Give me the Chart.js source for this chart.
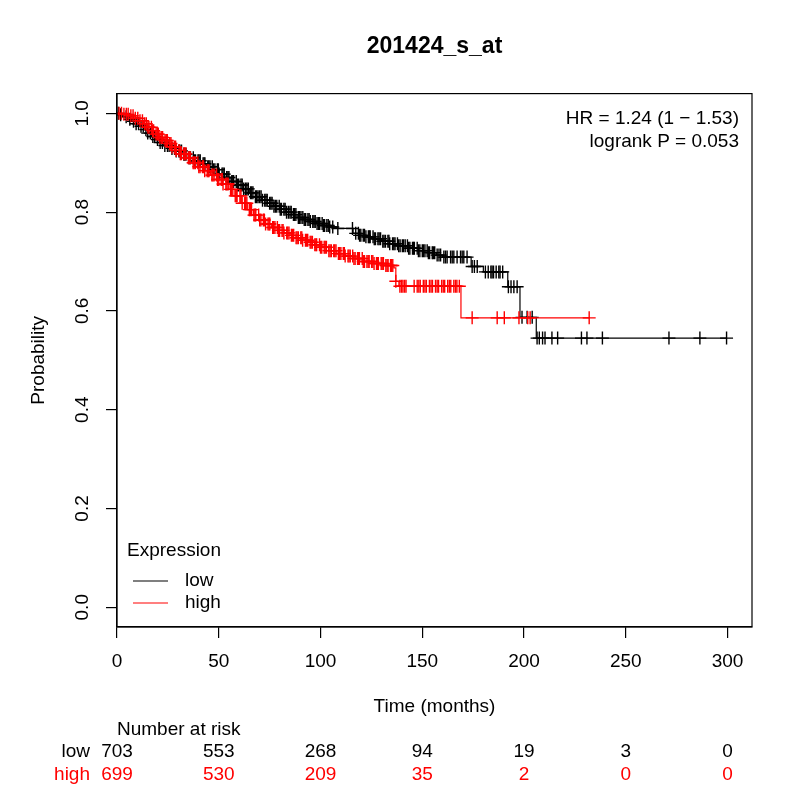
<!DOCTYPE html>
<html>
<head>
<meta charset="utf-8">
<script src="https://cdn.jsdelivr.net/npm/chart.js@4.4.0/dist/chart.umd.min.js"></script>
<style>
    html, body { margin: 0; padding: 0; background: #fff; }
    #wrap { width: 800px; height: 800px; }
</style>
</head>
<body>
<div id="wrap"><canvas id="kmChart" width="800" height="800"></canvas></div>
<script>
// survival steps (months, probability)
const lowTime = [0, 1.5, 3, 5, 7, 9, 11, 13, 15, 17, 19, 21, 23, 26, 29, 32, 35, 38, 41, 44, 47, 50, 53, 56, 59, 62, 65, 68, 71, 74, 77, 80, 83, 86, 89, 92, 95, 98, 101, 104, 108, 116, 119, 122, 126, 130, 134, 138, 143, 148, 153, 157, 160, 174, 180, 192, 198, 206, 299.5];
const lowSurv = [1.0, 0.997, 0.993, 0.988, 0.984, 0.979, 0.974, 0.967, 0.960, 0.953, 0.947, 0.941, 0.935, 0.929, 0.924, 0.917, 0.910, 0.904, 0.898, 0.892, 0.886, 0.877, 0.870, 0.862, 0.855, 0.847, 0.839, 0.831, 0.824, 0.818, 0.812, 0.806, 0.800, 0.795, 0.789, 0.785, 0.781, 0.777, 0.773, 0.770, 0.767, 0.757, 0.753, 0.750, 0.746, 0.741, 0.736, 0.732, 0.727, 0.722, 0.718, 0.713, 0.709, 0.690, 0.679, 0.649, 0.587, 0.545, 0.545];

const highTime = [0, 3, 6, 9, 11, 13, 15, 17, 19, 21, 23, 25, 27, 29, 31, 34, 37, 40, 43, 46, 49, 52, 55, 58, 61, 64, 67, 70, 73, 76, 79, 82, 85, 88, 91, 94, 97, 100, 104, 108, 112, 116, 121, 126, 131, 136, 137, 138.5, 169, 232];
const highSurv = [1.0, 0.998, 0.995, 0.990, 0.985, 0.979, 0.972, 0.965, 0.958, 0.951, 0.945, 0.939, 0.932, 0.925, 0.918, 0.910, 0.900, 0.892, 0.884, 0.875, 0.866, 0.857, 0.846, 0.833, 0.818, 0.805, 0.794, 0.784, 0.776, 0.769, 0.763, 0.758, 0.753, 0.748, 0.743, 0.739, 0.734, 0.729, 0.722, 0.716, 0.711, 0.706, 0.700, 0.696, 0.692, 0.687, 0.660, 0.650, 0.586, 0.586];

// censoring times ('+' marks)
const lowCensor = [0.7, 1.8, 4.5, 6.3, 8.1, 9.4, 10.6, 11.8, 12.9, 14.2, 15.1, 16.4, 17.6, 18.5, 19.9, 21.2, 22.3, 23.5, 24.8, 25.6, 27.0, 28.3, 29.1, 30.4, 30.9, 31.7, 32.8, 33.3, 33.9, 35.2, 35.7, 36.1, 37.5, 38.0, 38.6, 39.8, 40.3, 40.9, 42.3, 42.8, 43.2, 44.6, 45.1, 45.7, 46.8, 47.4, 48.1, 49.3, 49.8, 50.2, 51.6, 52.1, 52.7, 53.9, 54.5, 55.0, 56.4, 56.9, 57.3, 58.6, 59.2, 59.8, 60.9, 61.5, 62.2, 63.1, 63.8, 64.5, 65.6, 66.2, 66.8, 68.0, 68.6, 69.3, 70.1, 70.8, 71.5, 72.6, 73.2, 73.8, 75.0, 75.6, 76.2, 77.1, 77.8, 78.5, 79.7, 80.2, 80.8, 82.0, 82.6, 83.3, 84.2, 85.0, 85.6, 86.7, 87.3, 87.9, 89.1, 89.7, 90.4, 91.3, 92.0, 92.7, 93.8, 94.4, 95.0, 96.2, 96.8, 97.4, 98.3, 99.0, 99.6, 100.8, 101.4, 102.0, 103.1, 103.8, 104.5, 106.0, 108.5, 115.7, 117.3, 118.6, 119.2, 119.8, 121.0, 121.6, 122.3, 123.5, 124.0, 124.4, 125.8, 126.4, 127.0, 128.2, 128.8, 129.5, 130.6, 131.2, 131.9, 133.1, 133.6, 134.0, 135.4, 136.0, 136.6, 137.8, 138.4, 139.1, 140.2, 140.8, 141.6, 142.7, 143.3, 143.9, 145.2, 145.7, 146.1, 147.5, 148.1, 148.8, 150.0, 150.6, 151.3, 152.4, 153.0, 153.6, 154.9, 155.4, 156.1, 157.3, 158.2, 159.0, 160.6, 161.4, 162.2, 163.9, 164.7, 165.5, 167.1, 168.8, 169.6, 170.4, 172.0, 174.5, 175.6, 177.0, 181.0, 182.4, 183.7, 184.3, 185.0, 186.3, 187.6, 188.2, 189.5, 192.3, 193.6, 195.0, 196.6, 199.0, 201.5, 204.0, 206.4, 207.5, 209.1, 210.3, 213.7, 216.5, 228.2, 230.9, 238.5, 271.2, 286.4, 299.5];
const highCensor = [1.0, 2.2, 3.4, 4.6, 5.5, 6.8, 7.9, 9.0, 10.2, 11.3, 12.5, 13.6, 14.4, 15.2, 15.7, 16.9, 17.5, 18.0, 19.2, 19.8, 20.3, 21.1, 22.0, 22.4, 23.6, 24.2, 24.7, 25.9, 26.5, 27.0, 28.2, 28.8, 29.1, 30.5, 31.1, 31.6, 32.8, 33.3, 33.9, 35.1, 35.6, 36.0, 37.4, 37.9, 38.5, 39.7, 40.2, 40.8, 42.0, 42.5, 43.1, 44.3, 44.8, 45.2, 46.6, 47.1, 47.7, 48.9, 49.4, 50.0, 51.2, 51.7, 52.1, 53.5, 54.0, 54.6, 55.8, 56.3, 56.9, 58.1, 58.6, 59.0, 60.4, 60.9, 61.5, 62.7, 63.2, 63.8, 65.0, 65.5, 66.1, 67.3, 67.8, 68.2, 69.6, 70.1, 70.7, 71.9, 72.4, 73.0, 74.2, 74.7, 75.1, 76.5, 77.0, 77.6, 78.8, 79.3, 79.9, 81.1, 81.6, 82.0, 83.4, 83.9, 84.5, 85.7, 86.2, 86.8, 88.0, 88.5, 89.1, 90.3, 90.8, 91.2, 92.6, 93.1, 93.7, 94.9, 95.4, 96.0, 97.2, 97.7, 98.1, 99.5, 100.0, 100.6, 101.8, 102.3, 102.9, 104.1, 104.7, 105.3, 106.5, 107.0, 107.6, 108.8, 109.4, 110.0, 111.2, 111.7, 112.1, 113.5, 114.0, 114.6, 115.8, 116.4, 117.0, 118.2, 118.7, 119.1, 120.5, 121.0, 121.6, 122.8, 123.4, 123.9, 125.1, 125.7, 126.3, 127.5, 128.0, 128.4, 129.8, 130.3, 130.9, 132.1, 132.7, 133.2, 134.4, 134.9, 135.5, 137.0, 139.0, 139.8, 140.5, 141.3, 142.0, 146.0, 147.5, 148.3, 149.0, 150.5, 151.3, 152.0, 153.5, 154.3, 155.0, 156.5, 157.3, 158.0, 159.5, 160.3, 161.0, 162.5, 163.3, 164.0, 165.5, 166.3, 167.0, 168.2, 174.5, 186.8, 190.3, 197.5, 201.8, 203.0, 232.0];

const xTicks = [0, 50, 100, 150, 200, 250, 300];
const riskLow = [703, 553, 268, 94, 19, 3, 0];
const riskHigh = [699, 530, 209, 35, 2, 0, 0];

const FONT = "'Liberation Sans', Arial, Helvetica, sans-serif";
const RED = '#ff0000';

function toPoints(xs, ys) {
    return xs.map((x, i) => ({ x: x, y: ys[i] }));
}

// KM value at time t = last step at or before t
function survAt(times, surv, t) {
    let v = surv[0];
    for (let i = 0; i < times.length; i++) {
        if (times[i] <= t) v = surv[i];
    }
    return v;
}

function censorPoints(censor, times, surv) {
    return censor.map(t => ({ x: t, y: survAt(times, surv, t) }));
}

const extrasPlugin = {
    id: 'extras',
    afterDraw(chart) {
        const { ctx, chartArea: a } = chart;
        const xs = chart.scales.x;
        ctx.save();
        ctx.strokeStyle = '#000';
        ctx.lineWidth = 1.2;
        ctx.strokeRect(a.left, a.top, a.right - a.left, a.bottom - a.top);

        ctx.font = '19px ' + FONT;
        ctx.textBaseline = 'middle';
        ctx.fillStyle = '#000';

        // HR / logrank
        ctx.textAlign = 'right';
        ctx.fillText('HR = 1.24 (1 \u2212 1.53)', 739, 119);
        ctx.fillText('logrank P = 0.053', 739, 142);

        // legend
        ctx.textAlign = 'left';
        ctx.fillText('Expression', 127, 551);
        ctx.fillText('low', 185, 581);
        ctx.fillText('high', 185, 603);
        ctx.beginPath();
        ctx.moveTo(133, 581); ctx.lineTo(168, 581);
        ctx.stroke();
        ctx.strokeStyle = RED;
        ctx.beginPath();
        ctx.moveTo(133, 603); ctx.lineTo(168, 603);
        ctx.stroke();

        // number at risk table
        ctx.fillStyle = '#000';
        ctx.fillText('Number at risk', a.left, 730);
        ctx.textAlign = 'right';
        ctx.fillText('low', 90, 752);
        ctx.fillStyle = RED;
        ctx.fillText('high', 90, 775);
        ctx.textAlign = 'center';
        xTicks.forEach((t, i) => {
            const px = xs.getPixelForValue(t);
            ctx.fillStyle = '#000';
            ctx.fillText(String(riskLow[i]), px, 752);
            ctx.fillStyle = RED;
            ctx.fillText(String(riskHigh[i]), px, 775);
        });
        ctx.restore();
    }
};

function getConfig() {
    return {
        type: 'line',
        data: {
            datasets: [
                {
                    type: 'scatter',
                    data: censorPoints(highCensor, highTime, highSurv),
                    pointStyle: 'cross',
                    pointRadius: 6.5,
                    pointBorderWidth: 1.4,
                    borderColor: RED,
                    backgroundColor: RED,
                    showLine: false
                },
                {
                    data: toPoints(highTime, highSurv),
                    borderColor: RED,
                    borderWidth: 1.2,
                    pointRadius: 0,
                    stepped: 'before',
                    fill: false
                },
                {
                    type: 'scatter',
                    data: censorPoints(lowCensor, lowTime, lowSurv),
                    pointStyle: 'cross',
                    pointRadius: 6.5,
                    pointBorderWidth: 1.4,
                    borderColor: '#000',
                    backgroundColor: '#000',
                    showLine: false
                },
                {
                    data: toPoints(lowTime, lowSurv),
                    borderColor: '#000',
                    borderWidth: 1.2,
                    pointRadius: 0,
                    stepped: 'before',
                    fill: false
                }
            ]
        },
        options: {
            responsive: false,
            animation: false,
            events: [],
            layout: { padding: { left: 0, right: 48, top: 0, bottom: 0 } },
            plugins: {
                legend: { display: false },
                tooltip: { enabled: false },
                title: {
                    display: true,
                    text: '201424_s_at',
                    fullSize: false,
                    color: '#000',
                    font: { family: FONT, size: 23, weight: 'bold' },
                    padding: { top: 33, bottom: 33 }
                }
            },
            scales: {
                x: {
                    type: 'linear',
                    min: 0,
                    max: 312,
                    afterFit: (scale) => { scale.height = 173; },
                    ticks: {
                        stepSize: 50,
                        includeBounds: false,
                        color: '#000',
                        padding: 12,
                        maxRotation: 0,
                        font: { family: FONT, size: 19 }
                    },
                    grid: { drawOnChartArea: false, drawTicks: true, tickLength: 11, color: '#000', lineWidth: 1.2 },
                    border: { display: true, color: '#000', width: 1.2 },
                    title: {
                        display: true,
                        text: 'Time (months)',
                        color: '#000',
                        font: { family: FONT, size: 19 },
                        padding: { top: 0, bottom: 81.6 }
                    }
                },
                y: {
                    type: 'linear',
                    min: -0.04,
                    max: 1.04,
                    afterFit: (scale) => { scale.width = 117; },
                    ticks: {
                        stepSize: 0.2,
                        includeBounds: false,
                        color: '#000',
                        minRotation: 90,
                        maxRotation: 90,
                        crossAlign: 'center',
                        padding: 10,
                        font: { family: FONT, size: 19 },
                        callback: (v) => v.toFixed(1)
                    },
                    grid: { drawOnChartArea: false, drawTicks: true, tickLength: 11, color: '#000', lineWidth: 1.2 },
                    border: { display: true, color: '#000', width: 1.2 },
                    title: {
                        display: true,
                        text: 'Probability',
                        color: '#000',
                        font: { family: FONT, size: 19 },
                        padding: { top: 27, bottom: 0 }
                    }
                }
            }
        },
        plugins: [extrasPlugin]
    };
}

new Chart(document.getElementById('kmChart'), getConfig());
</script>
</body>
</html>
